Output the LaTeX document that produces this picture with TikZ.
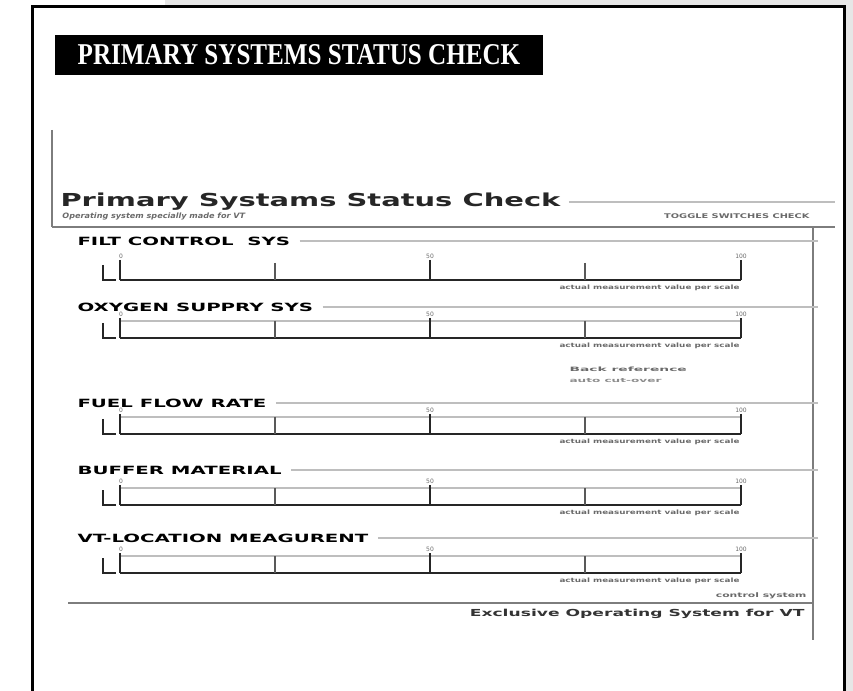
\documentclass[tikz,border=0pt]{standalone}
\usepackage{fontspec}
\usepackage{graphicx}
\setmainfont{Liberation Serif}
\newfontfamily\eurofont{DejaVu Sans}
\newfontfamily\stencilfont{Liberation Serif}

\definecolor{pagegray}{RGB}{230,230,230}
\definecolor{rulegray}{RGB}{125,125,125}
\definecolor{linegray}{RGB}{190,190,190}
\definecolor{notegray}{RGB}{105,105,105}

\newcommand{\wide}[1]{\scalebox{1.74}[1]{#1}}
\newcommand{\fitto}[3]{\resizebox{#1}{#2}{#3}}

\tikzset{every picture/.style={line width=0.75pt}}
\tikzset{
  seclabel/.style={anchor=west, inner sep=0.75pt, font=\eurofont\bfseries\fontsize{8.5}{9}\selectfont},
  ticklabel/.style={anchor=south, inner sep=0.75pt, text=notegray, font=\eurofont\fontsize{4.5}{4.5}\selectfont},
  notetext/.style={inner sep=0.75pt, text=notegray},
  secline/.style={linegray, line width=0.9pt},
  gaugebar/.style={line width=1.5pt, black!85},
  gaugetick/.style={line width=0.8pt, black!65},
}

% one gauge: #1 name, #2 baseline y
\newcommand{\gaugescale}[2]{%
  \draw[line width=1.2pt, black!85] (103,#2-15) -- (103,#2) -- (116,#2);
  \draw[gaugebar] (120,#2) -- (741,#2);
  \draw[line width=1.2pt, black!85] (120,#2-20) -- (120,#2);
  \draw[gaugetick] (275,#2-17) -- (275,#2);
  \draw[line width=1.2pt, black!85] (430,#2-20) -- (430,#2);
  \draw[gaugetick] (585,#2-17) -- (585,#2);
  \draw[line width=1.7pt, black!85] (741,#2-20) -- (741,#2);
  \node[ticklabel] (#1zero) at (121,#2-20) {0};
  \node[ticklabel] (#1half) at (430,#2-20) {50};
  \node[ticklabel] (#1full) at (741,#2-20) {100};
  \node[notetext, anchor=north east] (#1note) at (741,#2+3) {\fitto{135pt}{3.4pt}{\eurofont\bfseries actual measurement value per scale}};
}

\begin{document}
\begin{tikzpicture}[x=0.75pt,y=0.75pt,yscale=-1,xscale=1]
\useasboundingbox (0,0) rectangle (853,691);

%Shape: page background
\fill[pagegray] (165,0) rectangle (853,7);
\fill[pagegray] (845,0) rectangle (853,691);
%Shape: frame
\draw[line width=2.25pt] (32,695) -- (32,7) -- (844,7) -- (844,695);

% Title box
\node[fill=black, text=white, minimum width=366pt, minimum height=30pt, inner sep=0pt] (title) at (299,55) {\fitto{332pt}{15pt}{\stencilfont\bfseries PRIMARY SYSTEMS STATUS CHECK}};

% end points of the rules
\coordinate (headend) at (835,0);
\coordinate (lineend) at (818,0);

% Sheet heading
\node[anchor=base west, inner sep=0pt, text=black!85] (head) at (60,207) {\eurofont\bfseries\fontsize{13.4}{14}\selectfont\scalebox{1.62}[1]{Primary Systams Status Check}};
\draw[linegray, line width=1.3pt] ([xshift=6pt]head.east) -- (head.east -| headend);
\node[anchor=base west, inner sep=0pt, text=notegray] (subtitle) at (62,219) {\fitto{137pt}{4.2pt}{\eurofont\bfseries\itshape Operating system specially made for VT}};
\node[anchor=base east, inner sep=0pt, text=notegray] (toggle) at (810,219) {\fitto{109pt}{3.6pt}{\eurofont\bfseries TOGGLE SWITCHES CHECK}};

%Shape: sheet rules
\draw[rulegray, line width=1pt] (52,130) -- (52,227);
\draw[rulegray, line width=2pt] (52,227) -- (835,227);
\draw[rulegray, line width=0.8pt] (813,227) -- (813,640);

% FILT CONTROL SYS
\node[seclabel] (filt) at (76,241) {\wide{FILT CONTROL\ \ SYS}};
\draw[secline] ([xshift=6pt]filt.east) -- (filt.east -| lineend);
\gaugescale{filt}{280}

% OXYGEN SUPPRY SYS
\node[seclabel] (oxygen) at (76,307) {\wide{OXYGEN SUPPRY SYS}};
\draw[secline] ([xshift=6pt]oxygen.east) -- (oxygen.east -| lineend);
\draw[secline] (120,321) -- (741,321);
\gaugescale{oxygen}{338}
\node[notetext, anchor=west] (oxyref) at (568,369) {\fitto{88pt}{3.4pt}{\eurofont\bfseries Back reference}};
\node[notetext, anchor=west, text=black!45] (oxycut) at (568,381) {\fitto{69pt}{3pt}{\eurofont\bfseries auto cut-over}};

% FUEL FLOW RATE
\node[seclabel] (fuel) at (76,403) {\wide{FUEL FLOW RATE}};
\draw[secline] ([xshift=6pt]fuel.east) -- (fuel.east -| lineend);
\draw[secline] (120,417) -- (741,417);
\gaugescale{fuel}{434}

% BUFFER MATERIAL
\node[seclabel] (buffer) at (76,470) {\wide{BUFFER MATERIAL}};
\draw[secline] ([xshift=6pt]buffer.east) -- (buffer.east -| lineend);
\draw[secline] (120,488) -- (741,488);
\gaugescale{buffer}{505}

% VT-LOCATION MEAGURENT
\node[seclabel] (vtloc) at (76,538) {\wide{VT-LOCATION MEAGURENT}};
\draw[secline] ([xshift=6pt]vtloc.east) -- (vtloc.east -| lineend);
\draw[secline] (120,556) -- (741,556);
\gaugescale{vtloc}{573}

% Sheet footer
\node[notetext, anchor=base east] (ctrl) at (808,597) {\fitto{68pt}{3.6pt}{\eurofont\bfseries control system}};
\draw[rulegray, line width=1pt] (68,603) -- (812,603);
\node[anchor=base east, inner sep=0pt, text=black!80] (footer) at (805,616) {\fitto{251pt}{5.5pt}{\eurofont\bfseries Exclusive Operating System for VT}};

\end{tikzpicture}
\end{document}
